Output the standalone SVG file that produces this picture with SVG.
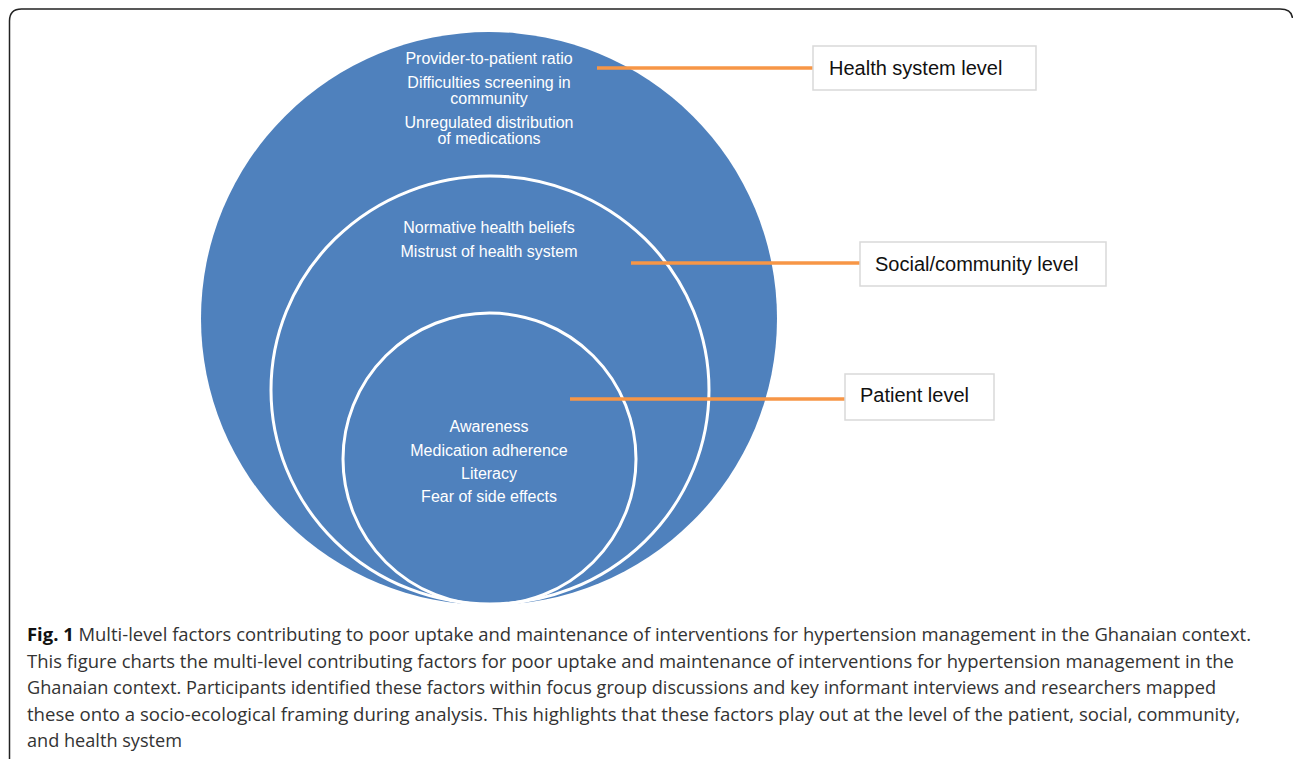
<svg xmlns="http://www.w3.org/2000/svg" width="1293" height="759" viewBox="0 0 1293 759">
  <style>
    .inner { font-family: "Liberation Sans", Arial, sans-serif; font-size: 16px; fill: #ffffff; text-anchor: middle; }
    .label { font-family: "Liberation Sans", Arial, sans-serif; font-size: 20px; fill: #111111; }
    .box { fill: #ffffff; stroke: #d9d9d9; stroke-width: 1.5; }
    .conn { stroke: #f79646; stroke-width: 3.5; fill: none; }
    .ring { fill: none; stroke: #ffffff; stroke-width: 3; }
    .cap { font-family: "Open Sans", "Liberation Sans", sans-serif; font-size: 17.5px; fill: #333333; }
  </style>
  <rect width="1293" height="759" fill="#ffffff"/>
  <path d="M 9.5 759 V 21 Q 9.5 9 21.5 9 H 1280 Q 1291.5 9 1292.5 18" fill="none" stroke="#222222" stroke-width="1.5"/>

  <g id="health-system-circle">
    <ellipse cx="489" cy="318.5" rx="288" ry="286.5" fill="#4f81bd"/>
    <text class="inner" x="489" y="64">Provider-to-patient ratio</text>
    <text class="inner" x="489" y="88">Difficulties screening in</text>
    <text class="inner" x="489" y="104">community</text>
    <text class="inner" x="489" y="128">Unregulated distribution</text>
    <text class="inner" x="489" y="144">of medications</text>
  </g>
  <g id="social-community-circle">
    <ellipse class="ring" cx="490" cy="390" rx="219" ry="214"/>
    <text class="inner" x="489" y="233">Normative health beliefs</text>
    <text class="inner" x="489" y="257">Mistrust of health system</text>
  </g>
  <g id="patient-circle">
    <ellipse class="ring" cx="489.5" cy="459" rx="146.5" ry="146"/>
    <text class="inner" x="489" y="432">Awareness</text>
    <text class="inner" x="489" y="456">Medication adherence</text>
    <text class="inner" x="489" y="479">Literacy</text>
    <text class="inner" x="489" y="502">Fear of side effects</text>
  </g>

  <g id="connectors">
    <line class="conn" x1="597" y1="68" x2="813" y2="68"/>
    <line class="conn" x1="631" y1="263" x2="860" y2="263"/>
    <line class="conn" x1="570" y1="399" x2="845" y2="399"/>
  </g>

  <g id="label-health-system">
    <rect class="box" x="813" y="46" width="223" height="44"/>
    <text class="label" x="829" y="75">Health system level</text>
  </g>
  <g id="label-social-community">
    <rect class="box" x="860" y="242" width="246" height="44"/>
    <text class="label" x="875" y="271">Social/community level</text>
  </g>
  <g id="label-patient">
    <rect class="box" x="845" y="374" width="149" height="46"/>
    <text class="label" x="860" y="402">Patient level</text>
  </g>

  <g id="caption">
    <text class="cap" x="27" y="641" textLength="1224" lengthAdjust="spacingAndGlyphs"><tspan font-weight="bold" fill="#111111">Fig. 1</tspan> Multi-level factors contributing to poor uptake and maintenance of interventions for hypertension management in the Ghanaian context.</text>
    <text class="cap" x="27" y="668" textLength="1207" lengthAdjust="spacingAndGlyphs">This figure charts the multi-level contributing factors for poor uptake and maintenance of interventions for hypertension management in the</text>
    <text class="cap" x="27" y="694" textLength="1189" lengthAdjust="spacingAndGlyphs">Ghanaian context. Participants identified these factors within focus group discussions and key informant interviews and researchers mapped</text>
    <text class="cap" x="27" y="721" textLength="1213" lengthAdjust="spacingAndGlyphs">these onto a socio-ecological framing during analysis. This highlights that these factors play out at the level of the patient, social, community,</text>
    <text class="cap" x="27" y="747" textLength="155" lengthAdjust="spacingAndGlyphs">and health system</text>
  </g>
</svg>
